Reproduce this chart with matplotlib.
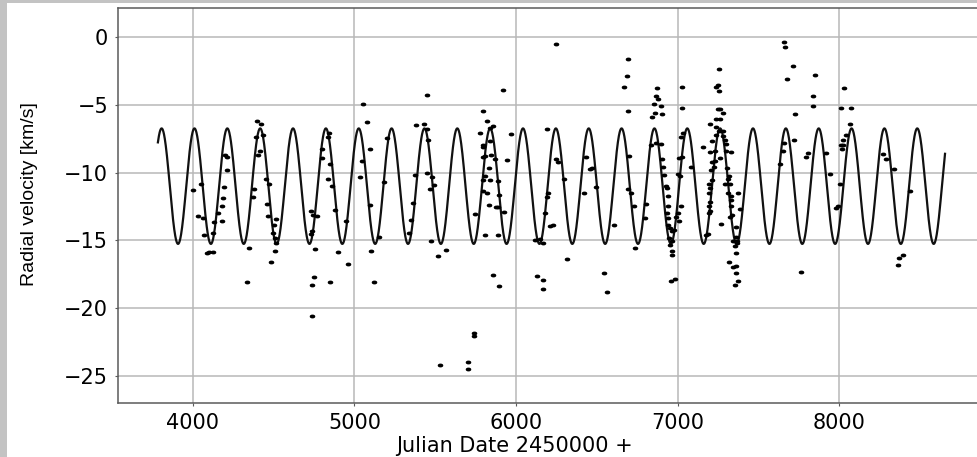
"""
Radial velocity vs Julian date with a sinusoidal orbit model.
"""
import numpy as np
import matplotlib
matplotlib.use("Agg")
import matplotlib.pyplot as plt
from matplotlib.patches import Rectangle
from matplotlib.path import Path
from matplotlib.transforms import Affine2D

# observed points (JD - 2450000, km/s)
jd = [
    4002, 4029, 4048, 4064, 4070, 4085, 4101, 4122, 4126, 4130, 4157, 4178, 4178,
    4188, 4192, 4198, 4209, 4213, 4333, 4345, 4370, 4378, 4390, 4394, 4405, 4415,
    4421, 4432, 4452, 4461, 4467, 4473, 4481, 4494, 4502, 4508, 4508, 4514, 4514,
    4730, 4745, 4766, 4735, 4730, 4755, 4751, 4739, 4735, 4801, 4797, 4834, 4842,
    4848, 4838, 4863, 4879, 4945, 4900, 4848, 4962, 5050, 5075, 5098, 5044, 5034,
    5096, 5152, 5102, 5119, 5180, 5199, 5381, 5374, 5364, 5350, 5337,
    5446, 5430, 5446, 5457, 5446, 5483, 5492, 5467, 5471, 5519, 5566, 5529, 5704,
    5704, 5739, 5739, 5797, 5777, 5822, 5838, 5855, 5793, 5797, 5793, 5807, 5838,
    5843, 5834, 5869, 5807, 5793, 5838, 5793, 5818, 5890, 5896, 5832, 5876, 5890,
    5925, 5748, 5807, 5890, 5859, 5896, 5921, 5966, 5946, 6189, 6200, 6189, 6179,
    6210, 6226, 6117, 6148, 6169, 6132, 6165, 6165, 6248, 6245,
    6262, 6299, 6313, 6431, 6458, 6472, 6423, 6493, 6608, 6546, 6565, 6695, 6685,
    6670, 6691, 6699, 6695, 6712, 6732, 6736, 6802, 6798, 6870, 6864, 6877, 6856,
    6897, 6860, 6901, 6844, 6835, 6864, 6897, 6901, 6912, 6918, 6926, 6932, 6939,
    6939, 6932, 6939, 6943, 6953, 6963, 6978, 6947, 6963, 6953, 6963, 6963, 6959,
    6984, 7029, 7029, 7021, 7031, 7009, 7029, 7005, 7015, 7021, 7001, 7009, 6990,
    7086, 7258, 7237, 7251, 7258, 7251, 7266, 7282, 7241, 7266, 7204, 7237, 7282,
    7258, 7237, 7282, 7293, 7159, 7216, 7200, 7231, 7299, 7303, 7334, 7266, 7216,
    7231, 7225, 7210, 7307, 7320, 7313, 7196, 7204, 7293, 7324, 7216, 7196, 7313,
    7328, 7375, 7204, 7196, 7328, 7334, 7204, 7196, 7386, 7324, 7340, 7272, 7190,
    7179, 7365, 7361, 7344, 7369, 7355, 7369, 7361, 7320, 7344, 7365, 7361, 7377,
    7355, 7660, 7668, 7712, 7675, 7726, 7720, 7658, 7650, 7637, 7767, 7850, 7840,
    7836, 7809, 7798,
    7922, 7943, 7978, 7995, 8005, 8015, 8026, 8019, 8026, 8040, 8067, 8015, 8077,
    8032, 8273, 8288, 8341, 8438, 8397, 8370, 8362,
]
rv = [
    -11.3, -13.18, -10.84, -13.37, -14.58, -15.96, -15.86, -15.9, -14.48, -13.65, -12.98, -13.6, -12.49,
    -11.87, -11.06, -8.67, -8.87, -9.78, -18.08, -15.54, -11.8, -11.2, -7.34, -6.18, -8.67, -8.37,
    -6.43, -7.19, -10.47, -12.3, -13.23, -10.81, -16.58, -14.46, -13.84, -14.83, -15.81, -13.4, -15.2,
    -12.86, -13.1, -13.18, -14.29, -14.53, -15.62, -17.68, -18.33, -20.6, -8.23, -8.92, -7.39, -7.09,
    -9.36, -10.44, -10.96, -12.76, -13.6, -15.86, -18.1, -16.75, -4.95, -6.26, -8.28, -9.16, -10.34,
    -12.41, -14.73, -15.81, -18.08, -10.69, -7.44, -6.5, -10.2, -12.24, -13.47, -14.46,
    -4.24, -6.4, -6.75, -7.56, -10.05, -10.34, -10.91, -11.2, -15.07, -16.16, -15.71, -24.2, -23.97,
    -24.5, -21.85, -22.07, -5.42, -7.09, -6.21, -6.7, -6.53, -7.98, -8.08, -8.84, -8.79, -7.64,
    -8.72, -9.66, -8.99, -10.27, -10.52, -10.54, -11.33, -11.5, -10.64, -11.67, -12.36, -12.51, -12.54,
    -12.93, -13.05, -14.63, -14.58, -17.6, -18.4, -3.92, -7.14, -9.06, -6.75, -11.5, -11.82, -13.0,
    -13.94, -13.84, -14.98, -14.9, -15.2, -17.66, -17.93, -18.57, -0.5, -9.0,
    -9.21, -10.47, -16.35, -8.87, -9.7, -9.66, -11.5, -11.08, -13.9, -17.41, -18.82, -1.6, -2.83,
    -3.65, -5.44, -8.79, -11.2, -11.5, -12.44, -15.57, -12.32, -13.37, -3.74, -4.36, -4.53, -4.9,
    -5.07, -5.59, -5.67, -5.89, -7.93, -7.81, -7.86, -9.01, -9.56, -10.2, -11.0, -11.13, -11.75,
    -12.49, -12.98, -13.35, -13.84, -14.09, -14.29, -14.21, -14.83, -15.02, -15.32, -15.81, -16.06, -18.03,
    -17.88, -3.69, -5.22, -7.39, -7.07, -8.92, -8.82, -10.07, -10.27, -12.44, -12.98, -13.6, -13.3,
    -9.61, -2.36, -3.69, -3.55, -3.94, -5.27, -5.27, -5.59, -6.03, -6.06, -6.4, -6.65, -6.95,
    -6.9, -7.19, -7.32, -7.56, -8.13, -7.64, -8.5, -8.37, -7.88, -8.42, -8.5, -8.92, -9.24,
    -9.16, -9.61, -9.78, -9.66, -10.27, -10.44, -10.84, -11.13, -10.84, -10.84, -10.52, -11.5, -11.5,
    -11.75, -11.5, -12.17, -12.49, -12.0, -12.49, -12.86, -12.98, -12.66, -13.3, -13.1, -13.79, -14.53,
    -14.63, -14.01, -14.78, -15.07, -15.02, -15.44, -15.2, -15.94, -16.58, -16.97, -16.9, -17.44, -17.98,
    -18.28, -0.37, -0.71, -2.09, -3.05, -5.67, -7.56, -7.81, -8.42, -9.36, -17.34, -2.76, -4.31,
    -5.1, -8.55, -8.82,
    -8.55, -10.12, -12.61, -12.49, -10.81, -7.98, -7.98, -8.23, -7.56, -7.19, -6.38, -5.22, -5.22,
    -3.74, -8.62, -8.99, -9.73, -11.38, -16.06, -16.3, -16.85,
]

# orbit model (circular): systemic velocity, semi-amplitude, period, time of max
gamma = -11.0
k_amp = 4.27
period = 203.4
t_max = 3806.0
t_start, t_end = 3783, 8656

x_ticks = [4000, 5000, 6000, 7000, 8000]
y_ticks = [-25, -20, -15, -10, -5, 0]

t_model = np.linspace(t_start, t_end, 4000)
rv_model = gamma + k_amp * np.cos(2 * np.pi * (t_model - t_max) / period)

fig = plt.figure(figsize=(9.77, 4.57), dpi=100)
fig.patch.set_facecolor("#c3c3c3")
fig.patches.append(Rectangle((7 / 977, 0), 1, 454 / 457, transform=fig.transFigure,
                             facecolor="white", edgecolor="none", zorder=-1))

ax = fig.add_axes([118 / 977, 54 / 457, 859 / 977, 395 / 457])

# flattened dot marker, like the stretched points in the original
dot = Path.unit_circle().transformed(Affine2D().scale(1.7, 1.0))

ax.plot(t_model, rv_model, color="#111111", linewidth=1.6, zorder=2)
ax.plot(jd, rv, linestyle="none", marker=dot, markersize=3.0, color="black", zorder=3)

ax.set_xlim(3536, 8854)
ax.set_ylim(-27.03, 2.17)
ax.set_xticks(x_ticks)
ax.set_yticks(y_ticks)
ax.grid(True, color="#b8b8b8", linewidth=1.1)
ax.set_axisbelow(True)

for side in ["left", "bottom", "top"]:
    ax.spines[side].set_color("#5a5a5a")
    ax.spines[side].set_linewidth(1.1)
ax.spines["right"].set_visible(False)

ax.tick_params(axis="both", labelsize=15, length=2, color="#5a5a5a", pad=5)
for lab in ax.get_xticklabels() + ax.get_yticklabels():
    lab.set_family("DejaVu Sans")

ax.set_xlabel("Julian Date 2450000 +", fontsize=15, family="DejaVu Sans")
ax.xaxis.set_label_coords(0.462, -0.083)
ax.set_ylabel("Radial velocity [km/s]", fontsize=14, family="Liberation Sans")
ax.yaxis.set_label_coords(-0.093, 0.529)

fig.savefig("out.png", dpi=100, facecolor=fig.get_facecolor())
plt.close(fig)
